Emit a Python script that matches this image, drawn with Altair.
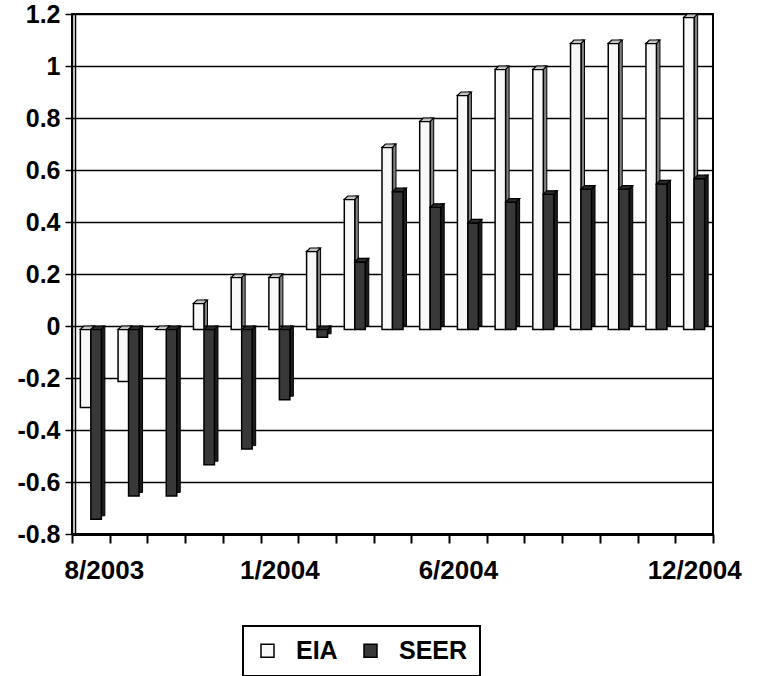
import altair as alt
import pandas as pd

# ---- data ----
months = ["8/2003", "9/2003", "10/2003", "11/2003", "12/2003", "1/2004", "2/2004",
          "3/2004", "4/2004", "5/2004", "6/2004", "7/2004", "8/2004", "9/2004",
          "10/2004", "11/2004", "12/2004"]
eia = [-0.3, -0.2, 0.0, 0.1, 0.2, 0.2, 0.3, 0.5, 0.7, 0.8, 0.9, 1.0, 1.0, 1.1, 1.1, 1.1, 1.2]
seer = [-0.73, -0.64, -0.64, -0.52, -0.46, -0.27, -0.03, 0.26, 0.53, 0.47, 0.41, 0.49,
        0.52, 0.54, 0.54, 0.56, 0.58]
series_names = ["EIA", "SEER"]
shown_labels = ["8/2003", "1/2004", "6/2004", "12/2004"]
y_ticks = [-0.8, -0.6, -0.4, -0.2, 0, 0.2, 0.4, 0.6, 0.8, 1, 1.2]

df = pd.DataFrame({
    "month": months * 2,
    "series": ["EIA"] * len(months) + ["SEER"] * len(months),
    "value": eia + seer,
})

# ---- styling ----
W, H = 641, 520
BAR_W = 10.5
DEPTH = 3.5
front_colors = ["#f8f8f8", "#383838"]
side_colors = ["#808080", "#1c1c1c"]
cap_colors = ["#c4c4c4", "#2a2a2a"]
centers = [-BAR_W / 2, BAR_W / 2]
FONT = "Liberation Sans"

hw, hd = BAR_W / 2, DEPTH / 2
cap_path = (f"M {-hw - hd} {hd} L {hw - hd} {hd} L {hw + hd} {-hd} "
            f"L {-hw + hd} {-hd} Z")

label_list = ",".join(f"'{m}'" for m in shown_labels)
x_axis = alt.Axis(
    labelExpr=f"indexof([{label_list}], datum.value) >= 0 ? datum.value : ''",
    labelAngle=0, labelFont=FONT, labelFontWeight="bold", labelFontSize=26,
    labelColor="black", labelPadding=14, tickBand="extent", tickSize=9,
    tickWidth=2, tickColor="black", domainColor="black", domainWidth=3,
    grid=False, title=None,
    labelOffset={"condition": [{"test": "datum.value === '8/2003'", "value": 13},
                               {"test": "datum.value === '6/2004'", "value": -10}],
                 "value": 0},
)
y_axis = alt.Axis(
    values=y_ticks,
    labelExpr="datum.value < 0 ? '-' + format(-datum.value, '.1~f') : format(datum.value, '.1~f')",
    labelFont=FONT, labelFontWeight="bold", labelFontSize=25, labelColor="black",
    labelPadding=5, tickSize=7, tickWidth=1.5, tickColor="black",
    domainColor="black", domainWidth=1.5, grid=True, gridColor="black",
    gridWidth=1.5, title=None,
)
x_scale = alt.Scale(paddingInner=0, paddingOuter=0)
y_scale = alt.Scale(domain=[y_ticks[0], y_ticks[-1]], nice=False, zero=False)


def cscale():
    return alt.Scale(domain=series_names, range=front_colors)


def xenc():
    return alt.X("month:N", sort=months, scale=x_scale, axis=x_axis)


def yenc(field):
    return alt.Y(f"{field}:Q", scale=y_scale, axis=y_axis)


legend = alt.Legend(
    orient="none", legendX=171, legendY=612, direction="horizontal", title=None,
    labelFont=FONT, labelFontSize=25, labelFontWeight="bold", labelColor="black",
    symbolType="square", symbolSize=169, symbolOpacity=1,
    symbolStrokeColor="black", symbolStrokeWidth=1.5, strokeColor="black",
    padding=12, labelOffset=16, columnPadding=20, fillColor="white",
)

layers = []
for i, s in enumerate(series_names):
    base = (alt.Chart(df)
            .transform_filter(alt.datum.series == s)
            .transform_calculate(top="max(datum.value, 0)"))
    c = centers[i]
    side = base.mark_bar(
        width=DEPTH, xOffset=c + BAR_W / 2 + DEPTH / 2, color=side_colors[i],
        stroke="black", strokeWidth=1,
    ).encode(x=xenc(), y=yenc("value"))
    front = base.mark_bar(
        width=BAR_W, xOffset=c, yOffset=DEPTH, y2Offset=DEPTH,
        stroke="black", strokeWidth=1.5,
    ).encode(
        x=xenc(), y=yenc("value"),
        color=alt.Color("series:N", scale=cscale(), legend=None),
    )
    cap = base.mark_point(
        shape=cap_path, size=4, filled=True, fill=cap_colors[i], stroke="black",
        strokeWidth=1.2, opacity=1, xOffset=c + DEPTH / 2, yOffset=DEPTH / 2,
    ).encode(x=xenc(), y=yenc("top"))
    layers += [side, front, cap]

# invisible layer that only carries the legend (square symbols)
legend_layer = alt.Chart(df).mark_point(
    shape="square", filled=True, size=169, opacity=0
).encode(
    x=xenc(), y=yenc("value"),
    color=alt.Color("series:N", scale=cscale(), legend=legend),
)

# back-wall left edge (double line look of the original frame)
wall = alt.Chart(pd.DataFrame({"k": [0]})).mark_rule(
    color="black", strokeWidth=1.5
).encode(x=alt.value(3.5), y=alt.value(0), y2=alt.value(H))

chart = alt.layer(wall, *layers, legend_layer).resolve_scale(
    color="independent"
).properties(
    width=W, height=H,
    autosize=alt.AutoSizeParams(type="none"),
    padding={"left": 72, "top": 14, "right": 46, "bottom": 142},
    background="white",
).configure_view(stroke="black", strokeWidth=2).configure_legend(strokeWidth=2)

chart.save("out.html", embed_options={"renderer": "svg", "actions": False})
